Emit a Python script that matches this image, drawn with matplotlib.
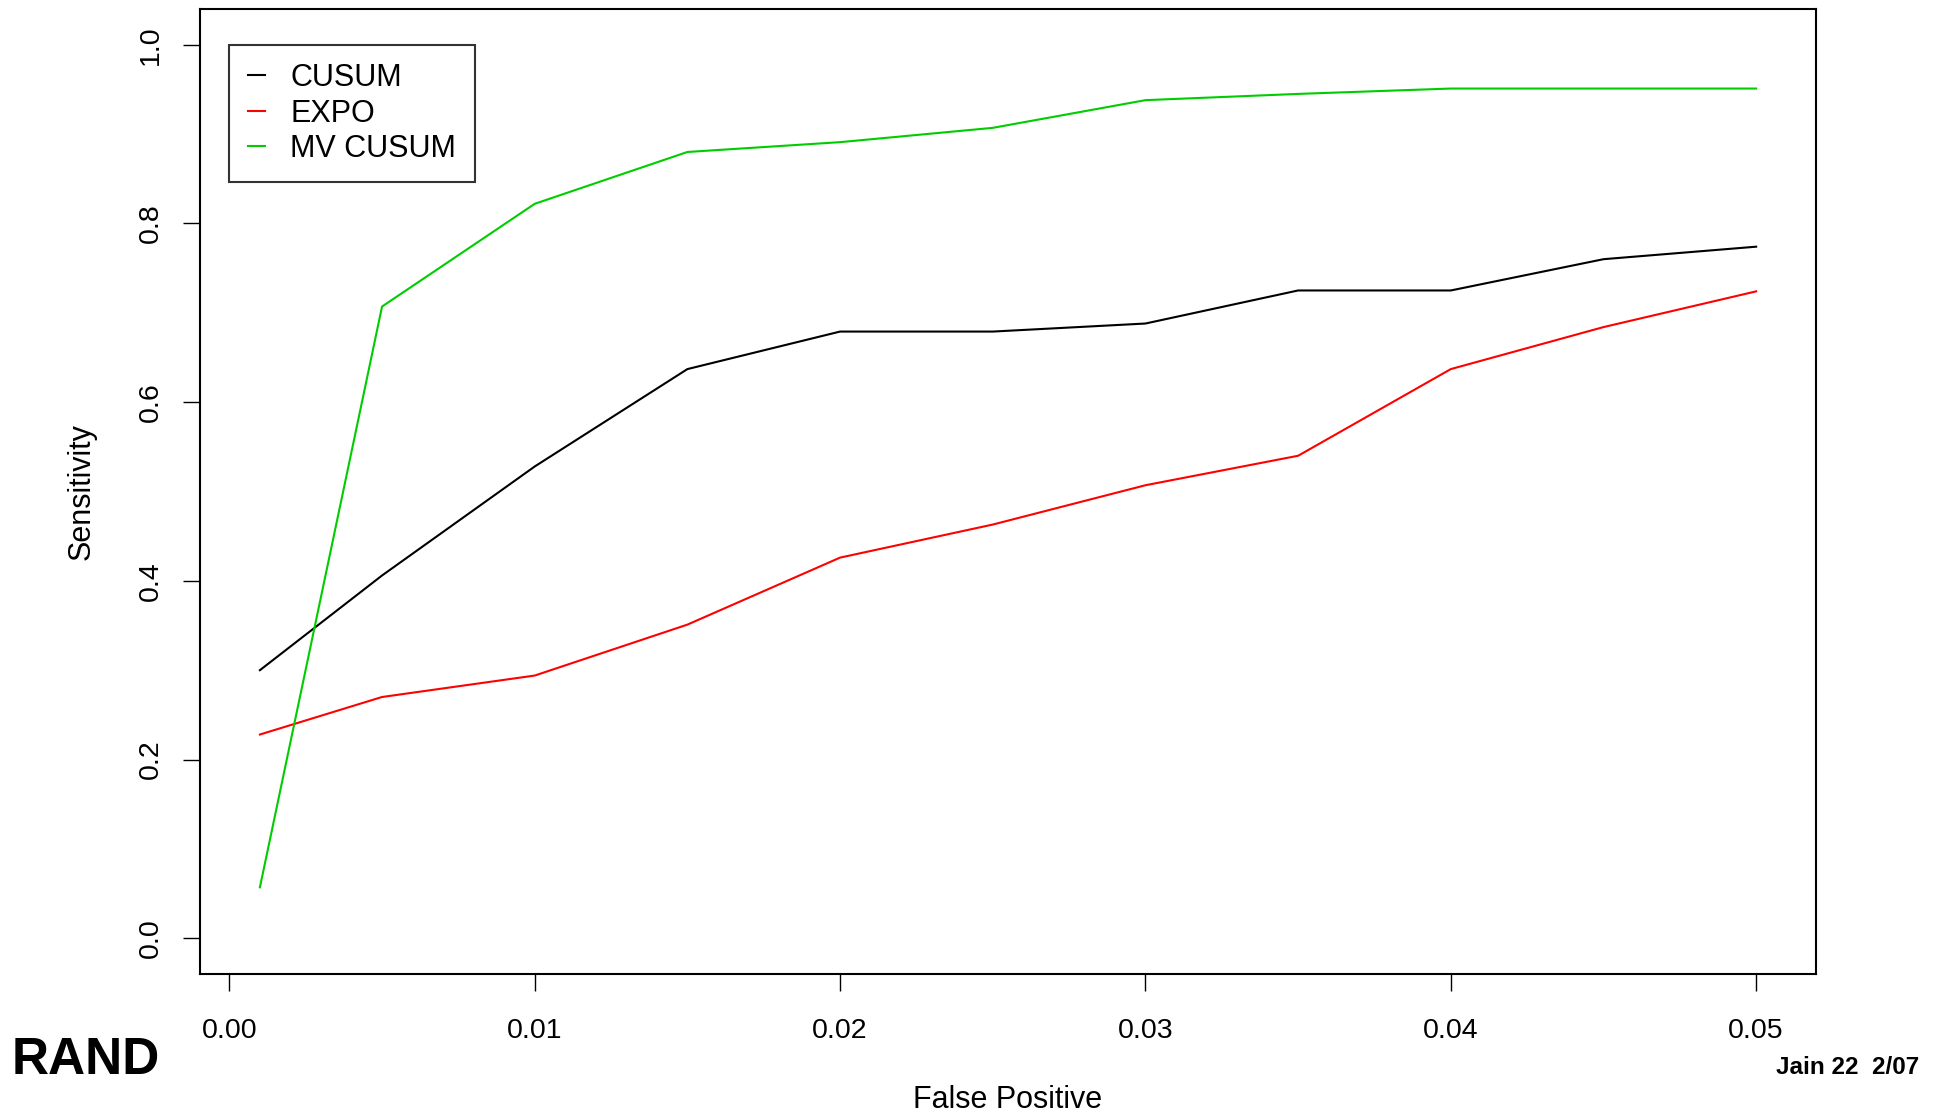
import matplotlib
matplotlib.use("Agg")
import matplotlib.pyplot as plt

plt.rcParams['font.family'] = ['Liberation Sans', 'DejaVu Sans']

# false positive rate at which each detector was evaluated
false_pos = [0.001, 0.005, 0.010, 0.015, 0.020, 0.025, 0.030, 0.035, 0.040, 0.045, 0.050]

# sensitivity of each method
cusum = [0.300, 0.406, 0.528, 0.637, 0.679, 0.679, 0.688, 0.725, 0.725, 0.760, 0.774]
expo = [0.228, 0.270, 0.294, 0.351, 0.426, 0.463, 0.507, 0.540, 0.637, 0.684, 0.724]
mv_cusum = [0.057, 0.707, 0.822, 0.880, 0.891, 0.907, 0.938, 0.945, 0.951, 0.951, 0.951]

labels = ['CUSUM', 'EXPO', 'MV CUSUM']
colors = ['black', '#FF0000', '#00CD00']

x_ticks = [0.00, 0.01, 0.02, 0.03, 0.04, 0.05]
y_ticks = [0.0, 0.2, 0.4, 0.6, 0.8, 1.0]

fig = plt.figure(figsize=(19.46, 11.14), dpi=100)
ax = fig.add_axes([0.1028, 0.1257, 0.8304, 0.8662])

for ys, lab, col in zip([cusum, expo, mv_cusum], labels, colors):
    ax.plot(false_pos, ys, color=col, lw=1.5, label=lab)

# R-style 4% padding around the data range
xr = false_pos[-1] - false_pos[0]
ax.set_xlim(false_pos[0] - 0.04 * xr, false_pos[-1] + 0.04 * xr)
ax.set_ylim(-0.04, 1.04)

ax.set_xticks(x_ticks)
ax.set_xticklabels([f'{v:.2f}' for v in x_ticks])
ax.set_yticks(y_ticks)
ax.set_yticklabels([f'{v:.1f}' for v in y_ticks], rotation=90, va='center')
ax.tick_params(direction='out', length=12, width=1, labelsize=20.5, colors='black')
ax.tick_params(axis='x', pad=20)
ax.tick_params(axis='y', pad=14)
for sp in ax.spines.values():
    sp.set_linewidth(1.5)

ax.set_xlabel('False Positive', fontsize=22)
ax.set_ylabel('Sensitivity', fontsize=22)
ax.xaxis.set_label_coords(0.5, -0.1306)
ax.xaxis.label.set_va('center')
ax.yaxis.set_label_coords(-0.073, 0.5)
ax.yaxis.label.set_va('center')

# legend box anchored at (0, 1) in data units, like legend(0, 1, ...) in R
leg = ax.legend(loc='upper left', bbox_to_anchor=(0.0, 1.0),
                bbox_transform=ax.transData, borderaxespad=0,
                fontsize=22, frameon=True, fancybox=False,
                handlelength=0.55, handletextpad=0.85, labelspacing=0.18,
                borderpad=0.6)
leg.get_frame().set_edgecolor('black')
leg.get_frame().set_linewidth(1.5)
for h in leg.get_lines():
    h.set_linewidth(1.5)

fig.text(12 / 1946, 1 - 1061 / 1114, 'RAND', fontsize=37, fontweight='bold',
         ha='left', va='center')
fig.text(1776 / 1946, 1 - 1068 / 1114, 'Jain 22  2/07', fontsize=17.5,
         fontweight='bold', ha='left', va='center')

fig.savefig('out.png', dpi=100, facecolor='white')
